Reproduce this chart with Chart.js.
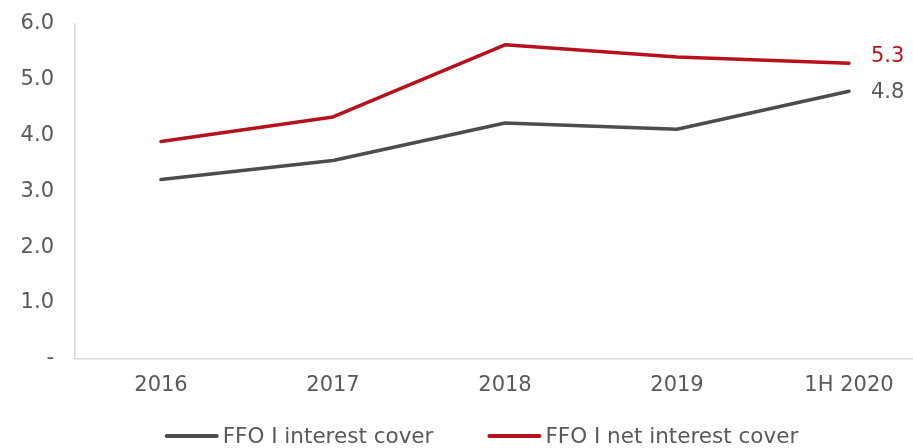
<!DOCTYPE html>
<html>
<head>
<meta charset="utf-8">
<script src="https://cdn.jsdelivr.net/npm/chart.js@4/dist/chart.umd.min.js"></script>
<style>
  html, body { margin: 0; padding: 0; background: #ffffff; overflow: hidden; width: 913px; height: 448px; }
  #wrap { width: 935px; height: 458px; margin-top: -10px; }
  canvas { display: block; }
</style>
</head>
<body>
<div id="wrap"><canvas id="c" width="935" height="458"></canvas></div>
<script>
const categories = ['2016', '2017', '2018', '2019', '1H 2020'];
const interestCover = [3.21, 3.55, 4.22, 4.11, 4.79];
const netInterestCover = [3.89, 4.33, 5.62, 5.40, 5.29];
const seriesNames = ['FFO I interest cover', 'FFO I net interest cover'];
const yTicks = [0, 1, 2, 3, 4, 5, 6];

const FONT = 'DejaVu Sans, Verdana, sans-serif';
const GRAY = '#4d4d4d';
const RED = '#b5121b';
const TEXT = '#595959';

const endLabels = {
  id: 'endLabels',
  afterDatasetsDraw(chart) {
    const ctx = chart.ctx;
    ctx.save();
    ctx.font = '21px ' + FONT;
    ctx.textAlign = 'left';
    ctx.textBaseline = 'middle';
    const offsets = [1, -7];
    chart.data.datasets.forEach((ds, i) => {
      const meta = chart.getDatasetMeta(i);
      const last = meta.data[meta.data.length - 1];
      const v = ds.data[ds.data.length - 1];
      ctx.fillStyle = i === 0 ? TEXT : RED;
      ctx.fillText(v.toFixed(1), last.x + 22, last.y + offsets[i]);
    });
    ctx.restore();
  }
};

const customLegend = {
  id: 'customLegend',
  afterDraw(chart) {
    const ctx = chart.ctx;
    ctx.save();
    ctx.font = '21.5px ' + FONT;
    ctx.textBaseline = 'middle';
    const lineW = 52, gapText = 5, gapItem = 55;
    const items = chart.data.datasets.map(ds => ({ label: ds.label, color: ds.borderColor, w: lineW + gapText + ctx.measureText(ds.label).width }));
    const total = items.reduce((s, it) => s + it.w, 0) + gapItem * (items.length - 1);
    let x = 482 - total / 2;
    const y = chart.height - 12;
    items.forEach(it => {
      ctx.strokeStyle = it.color;
      ctx.lineWidth = 4;
      ctx.lineCap = 'round';
      ctx.beginPath();
      ctx.moveTo(x + 1, y);
      ctx.lineTo(x + lineW - 1, y);
      ctx.stroke();
      ctx.fillStyle = TEXT;
      ctx.textAlign = 'left';
      ctx.fillText(it.label, x + lineW + gapText, y + 1);
      x += it.w + gapItem;
    });
    ctx.restore();
  }
};

new Chart(document.getElementById('c'), {
  type: 'line',
  data: {
    labels: categories,
    datasets: [
      { label: seriesNames[0], data: interestCover, borderColor: GRAY, backgroundColor: GRAY, borderWidth: 3.5, pointRadius: 0, tension: 0, borderCapStyle: 'round', borderJoinStyle: 'round' },
      { label: seriesNames[1], data: netInterestCover, borderColor: RED, backgroundColor: RED, borderWidth: 3.5, pointRadius: 0, tension: 0, borderCapStyle: 'round', borderJoinStyle: 'round' }
    ]
  },
  options: {
    responsive: false,
    animation: false,
    layout: { padding: { top: 0, right: 0, bottom: 36, left: 0 } },
    plugins: { legend: { display: false }, tooltip: { enabled: false } },
    scales: {
      x: {
        offset: true,
        grid: { display: false, drawTicks: false },
        border: { display: true, color: '#d9d9d9', width: 1.5 },
        ticks: { color: TEXT, font: { family: FONT, size: 21 }, padding: 14, maxRotation: 0, autoSkip: false }
      },
      y: {
        min: 0, max: 6,
        afterFit(scale) { scale.width = 75; },
        afterBuildTicks(scale) { scale.ticks = yTicks.map(v => ({ value: v })); },
        grid: { display: false, drawTicks: false },
        border: { display: true, color: '#d9d9d9', width: 1.5 },
        ticks: {
          color: TEXT, font: { family: FONT, size: 21 }, padding: 21,
          callback: v => v === 0 ? '-' : v.toFixed(1)
        }
      }
    }
  },
  plugins: [endLabels, customLegend]
});
</script>
</body>
</html>
